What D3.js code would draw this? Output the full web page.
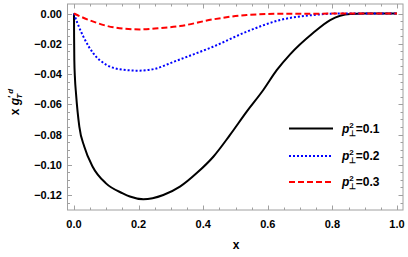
<!DOCTYPE html>
<html>
<head>
<meta charset="utf-8">
<script src="https://cdn.jsdelivr.net/npm/d3@7"></script>
<style>
  body { margin: 0; background: #fff; }
  text { font-family: "Liberation Sans", Arial, sans-serif; font-weight: bold; }
</style>
</head>
<body>
<script>
const width = 408
const height = 257

// curves
const blackX = [0, 0.0003, 0.001, 0.003, 0.0062, 0.0165, 0.032, 0.0578, 0.099, 0.151, 0.173, 0.2146, 0.2765, 0.328, 0.38, 0.4313, 0.483, 0.5347, 0.586, 0.6276, 0.669, 0.74, 0.793, 0.855, 0.9, 1.0]
const blackY = [0, -0.015, -0.0307, -0.043, -0.0528, -0.0748, -0.0881, -0.1013, -0.1123, -0.1189, -0.121, -0.1228, -0.12, -0.1145, -0.1055, -0.0947, -0.0803, -0.0649, -0.0506, -0.0375, -0.027, -0.0129, -0.0043, -0.0003, 0, 0]
const blueX = [0, 0.003, 0.01, 0.029, 0.06, 0.101, 0.14, 0.2, 0.25, 0.31, 0.37, 0.43, 0.535, 0.638, 0.74, 0.82, 1.0]
const blueY = [0, -0.002, -0.006, -0.0153, -0.0264, -0.034, -0.0368, -0.0378, -0.0366, -0.0318, -0.027, -0.022, -0.012, -0.0043, -0.001, 0, 0]
const redX = [0, 0.02, 0.06, 0.122, 0.204, 0.26, 0.328, 0.43, 0.535, 0.64, 1.0]
const redY = [0, -0.002, -0.0054, -0.0091, -0.0105, -0.0098, -0.0083, -0.0039, -0.001, -0.0002, 0]

const legendLabels = ['0.1', '0.2', '0.3']
const xTicks = [0, 0.2, 0.4, 0.6, 0.8, 1.0]
const yTicks = [0, -0.02, -0.04, -0.06, -0.08, -0.10, -0.12]

const series = [
  {xs: blackX, ys: blackY, color: 'black', dash: null},
  {xs: blueX, ys: blueY, color: 'blue', dash: '2,2'},
  {xs: redX, ys: redY, color: 'red', dash: '6,3'}
]

const frame = {left: 67.5, right: 403, top: 4, bottom: 210}

const x = d3.scaleLinear().domain([0, 1]).range([74, 397])
const y = d3.scaleLinear().domain([0, -0.12]).range([13.5, 195])

const svg = d3.select('body').append('svg')
    .attr('width', width)
    .attr('height', height)

// frame
svg.append('rect')
    .attr('x', frame.left)
    .attr('y', frame.top)
    .attr('width', frame.right - frame.left)
    .attr('height', frame.bottom - frame.top)
    .style('fill', 'none')
    .style('stroke', '#a0a0a0')
    .style('stroke-width', 1)

// ticks on all sides, pointing inward
const xMinor = d3.range(0, 1.0001, 0.05)
const yMinor = d3.range(0, -0.1301, -0.005)

function isMajor(v, step) {
  return Math.abs(Math.round(v / step) * step - v) < 1e-6
}

xMinor.forEach(v => {
  const len = isMajor(v, 0.2) ? 4.5 : 2.5
  const px = Math.round(x(v)) + 0.5
  svg.append('line').attr('x1', px).attr('x2', px)
      .attr('y1', frame.bottom).attr('y2', frame.bottom - len)
      .style('stroke', '#a0a0a0')
  svg.append('line').attr('x1', px).attr('x2', px)
      .attr('y1', frame.top).attr('y2', frame.top + len)
      .style('stroke', '#a0a0a0')
})

yMinor.forEach(v => {
  if (y(v) > frame.bottom || y(v) < frame.top) return
  const len = isMajor(v, 0.02) ? 4.5 : 2.5
  const py = Math.round(y(v)) + 0.5
  svg.append('line').attr('y1', py).attr('y2', py)
      .attr('x1', frame.left).attr('x2', frame.left + len)
      .style('stroke', '#a0a0a0')
  svg.append('line').attr('y1', py).attr('y2', py)
      .attr('x1', frame.right).attr('x2', frame.right - len)
      .style('stroke', '#a0a0a0')
})

// tick labels
svg.selectAll('.xl').data(xTicks).enter().append('text')
    .attr('x', d => x(d))
    .attr('y', 228)
    .attr('text-anchor', 'middle')
    .style('font-size', '11px')
    .text(d => d3.format('.1f')(d))

svg.selectAll('.yl').data(yTicks).enter().append('text')
    .attr('x', 62)
    .attr('y', d => y(d) + 4)
    .attr('text-anchor', 'end')
    .style('font-size', '11px')
    .text(d => d === 0 ? '0.00' : '\u2212' + d3.format('.2f')(-d))

// axis labels
svg.append('text')
    .attr('x', 236)
    .attr('y', 249)
    .attr('text-anchor', 'middle')
    .style('font-size', '12px')
    .text('x')

const yl = svg.append('text')
    .attr('transform', 'translate(19,102) rotate(-90)')
    .attr('text-anchor', 'middle')
    .style('font-size', '12px')
yl.append('tspan').text('x ')
yl.append('tspan').style('font-style', 'italic').text('g')
yl.append('tspan').attr('dy', -5).style('font-size', '9px').text('\u2032')
yl.append('tspan').attr('dx', -3).attr('dy', 8).style('font-size', '8px').style('font-style', 'italic').text('T')
yl.append('tspan').attr('dy', -9).style('font-size', '8px').style('font-style', 'italic').text('d')

// curves
const line = d3.line().x(d => x(d[0])).y(d => y(d[1])).curve(d3.curveMonotoneX)

series.forEach(s => {
  const pts = s.xs.map((v, i) => [v, s.ys[i]])
  svg.append('path')
      .attr('d', line(pts))
      .style('fill', 'none')
      .style('stroke', s.color)
      .style('stroke-width', 2)
      .style('stroke-dasharray', s.dash)
})

// legend
const legY = [128.5, 156, 182]
series.forEach((s, i) => {
  svg.append('line')
      .attr('x1', 289).attr('x2', 333)
      .attr('y1', legY[i]).attr('y2', legY[i])
      .style('stroke', s.color)
      .style('stroke-width', 2)
      .style('stroke-dasharray', s.dash)
  const t = svg.append('text')
      .attr('x', 342)
      .attr('y', legY[i] + 4)
      .style('font-size', '12px')
  t.append('tspan').style('font-style', 'italic').text('p')
  t.append('tspan').attr('dy', -5).style('font-size', '8px').text('2')
  t.append('tspan').attr('dx', -5).attr('dy', 8).style('font-size', '8px').text('\u22a5')
  t.append('tspan').attr('dy', -3).text('=' + legendLabels[i])
})
</script>
</body>
</html>
